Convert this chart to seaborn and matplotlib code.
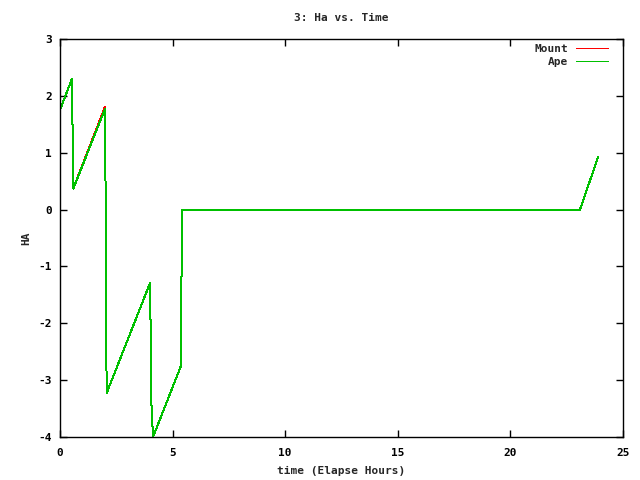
import matplotlib
matplotlib.use("Agg")
import matplotlib.pyplot as plt
import seaborn as sns
import pandas as pd

# Data
time_mount = [0.0, 0.53, 0.56, 0.59, 2.0, 2.02, 2.07, 4.0, 4.02, 4.05, 4.13, 5.37, 5.39, 5.43, 23.09, 23.89]
ha_mount = [1.75, 2.3, 1.35, 0.37, 1.81, 0.54, -3.23, -1.29, -1.98, -3.33, -4.0, -2.75, -1.36, 0.0, 0.0, 0.92]
time_ape = [0.0, 0.53, 0.56, 0.59, 2.0, 2.02, 2.07, 4.0, 4.02, 4.05, 4.13, 5.37, 5.39, 5.43, 23.09, 23.89]
ha_ape = [1.75, 2.3, 1.35, 0.37, 1.77, 0.54, -3.23, -1.29, -1.98, -3.33, -4.0, -2.75, -1.36, 0.0, 0.0, 0.92]
x_ticks = [0, 5, 10, 15, 20, 25]
y_ticks = [-4, -3, -2, -1, 0, 1, 2, 3]

sns.set_style("ticks")
plt.rcParams['font.family'] = ['DejaVu Sans Mono', 'DejaVu Sans']
plt.rcParams['font.weight'] = 'bold'
plt.rcParams['axes.unicode_minus'] = False

df_m = pd.DataFrame({"time": time_mount, "ha": ha_mount})
df_a = pd.DataFrame({"time": time_ape, "ha": ha_ape})

fig = plt.figure(figsize=(6.4, 4.8), dpi=100)
ax = fig.add_axes([60/640, 1-437/480, (623-60)/640, (437-39)/480])

sns.lineplot(data=df_m, x="time", y="ha", ax=ax, color="#ff0000", linewidth=0.72, label="Mount",
             sort=False, estimator=None, antialiased=False)
sns.lineplot(data=df_a, x="time", y="ha", ax=ax, color="#00c000", linewidth=0.72, label="Ape",
             sort=False, estimator=None, antialiased=False)
for ln in ax.lines:
    ln.set_linewidth(0.72)
    ln.set_antialiased(False)

ax.set_xlim(0, 25)
ax.set_ylim(-4, 3)
ax.set_xticks(x_ticks)
ax.set_yticks(y_ticks)
ax.tick_params(direction="in", length=5, width=1, top=True, right=True, labelsize=8, colors="black", pad=6)
ax.tick_params(axis="x", pad=8)
for lbl in ax.get_xticklabels() + ax.get_yticklabels():
    lbl.set_fontweight("bold")
for s in ax.spines.values():
    s.set_visible(True)
    s.set_color("black")
    s.set_linewidth(1)

ax.set_xlabel("time (Elapse Hours)", fontsize=8, fontweight="bold", labelpad=6)
ax.set_ylabel("HA", fontsize=8, fontweight="bold", labelpad=5)
ax.set_title("3: Ha vs. Time", fontsize=8, fontweight="bold", pad=13)

leg = ax.legend(loc="upper right", bbox_to_anchor=(0.9812, 0.999), frameon=False, markerfirst=False,
                fontsize=8, handlelength=2.9, borderaxespad=0, labelspacing=0.3, handletextpad=0.7)
for t in leg.get_texts():
    t.set_fontweight("bold")
for h in leg.get_lines():
    h.set_antialiased(False)
    h.set_linewidth(0.72)

fig.savefig("out.png", dpi=100)
